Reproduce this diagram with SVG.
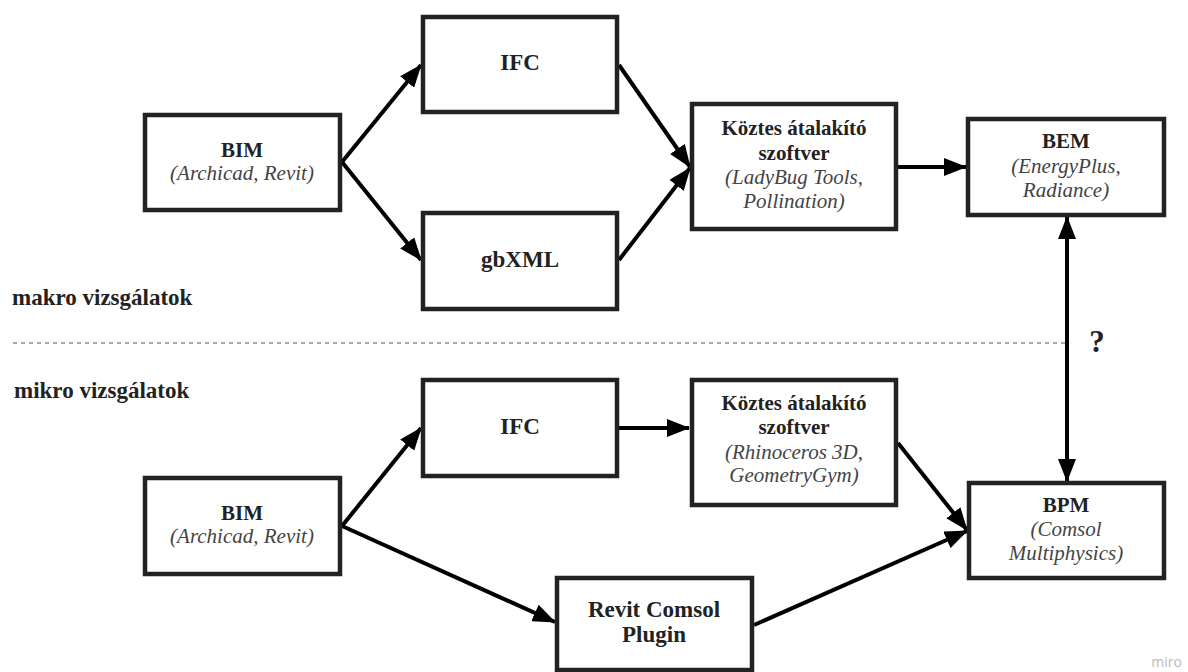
<svg xmlns="http://www.w3.org/2000/svg" width="1188" height="672" viewBox="0 0 1188 672">
<style>
.box{fill:#fff;stroke:#222;stroke-width:4.5}
.b{font-family:"Liberation Serif",serif;font-weight:bold;fill:#222;text-anchor:middle;font-size:21px}
.b23{font-size:23px}
.i{font-family:"Liberation Serif",serif;font-style:italic;fill:#444;text-anchor:middle;font-size:21px}
.lab{font-family:"Liberation Serif",serif;font-weight:bold;fill:#222;font-size:23px}
.c{fill:none;stroke:#000;stroke-width:4}
</style>
<defs>
<marker id="ah" viewBox="0 0 23 18" refX="22" refY="9" markerWidth="23" markerHeight="18" markerUnits="userSpaceOnUse" orient="auto-start-reverse">
<path d="M0,0 L23,9 L0,18 z" fill="#000"/>
</marker>
</defs>
<rect width="1188" height="672" fill="#fff"/>

<g id="section-labels">
<text class="lab" x="12" y="305">makro vizsgálatok</text>
<text class="lab" x="14" y="398">mikro vizsgálatok</text>
<line x1="13" y1="343" x2="1067" y2="343" stroke="#555" stroke-width="1.2" stroke-dasharray="4 4"/>
<text class="lab" x="1097" y="352" text-anchor="middle" style="font-size:31px">?</text>
</g>

<g id="connectors">
<line class="c" x1="342" y1="162" x2="421" y2="65" marker-end="url(#ah)"/>
<line class="c" x1="342" y1="162" x2="421" y2="260" marker-end="url(#ah)"/>
<line class="c" x1="619" y1="65" x2="690" y2="167" marker-end="url(#ah)"/>
<line class="c" x1="619" y1="260" x2="690" y2="168" marker-end="url(#ah)"/>
<line class="c" x1="898" y1="167" x2="966" y2="167" marker-end="url(#ah)"/>
<line class="c" x1="1067" y1="217" x2="1067" y2="481" marker-start="url(#ah)" marker-end="url(#ah)"/>
<line class="c" x1="342" y1="526" x2="421" y2="428" marker-end="url(#ah)"/>
<line class="c" x1="619" y1="428" x2="689" y2="428" marker-end="url(#ah)"/>
<line class="c" x1="898" y1="443" x2="967" y2="530" marker-end="url(#ah)"/>
<line class="c" x1="342" y1="526" x2="555" y2="622" marker-end="url(#ah)"/>
<line class="c" x1="754" y1="625" x2="967" y2="531" marker-end="url(#ah)"/>
</g>

<g id="bim-top">
<rect class="box" x="145" y="115" width="195" height="95"/>
<text class="b" x="242" y="157">BIM</text>
<text class="i" x="242" y="180">(Archicad, Revit)</text>
</g>
<g id="ifc-top">
<rect class="box" x="423" y="17" width="194" height="95"/>
<text class="b b23" x="520" y="70">IFC</text>
</g>
<g id="gbxml">
<rect class="box" x="423" y="213" width="194" height="96"/>
<text class="b b23" x="520" y="267">gbXML</text>
</g>
<g id="koztes-top">
<rect class="box" x="692" y="104" width="204" height="125"/>
<text class="b" x="794" y="135">Köztes átalakító</text>
<text class="b" x="794" y="160">szoftver</text>
<text class="i" x="794" y="184">(LadyBug Tools,</text>
<text class="i" x="794" y="208">Pollination)</text>
</g>
<g id="bem">
<rect class="box" x="968" y="119" width="196" height="96"/>
<text class="b" x="1066" y="148">BEM</text>
<text class="i" x="1066" y="173">(EnergyPlus,</text>
<text class="i" x="1066" y="197">Radiance)</text>
</g>

<g id="bim-bottom">
<rect class="box" x="145" y="478" width="195" height="96"/>
<text class="b" x="242" y="520">BIM</text>
<text class="i" x="242" y="543">(Archicad, Revit)</text>
</g>
<g id="ifc-bottom">
<rect class="box" x="423" y="380" width="194" height="96"/>
<text class="b b23" x="520" y="434">IFC</text>
</g>
<g id="koztes-bottom">
<rect class="box" x="692" y="380" width="204" height="125"/>
<text class="b" x="794" y="410">Köztes átalakító</text>
<text class="b" x="794" y="434">szoftver</text>
<text class="i" x="794" y="459">(Rhinoceros 3D,</text>
<text class="i" x="794" y="482">GeometryGym)</text>
</g>
<g id="bpm">
<rect class="box" x="969" y="483" width="195" height="95"/>
<text class="b" x="1066" y="512">BPM</text>
<text class="i" x="1066" y="536">(Comsol</text>
<text class="i" x="1066" y="560">Multiphysics)</text>
</g>
<g id="plugin">
<rect class="box" x="557" y="578" width="195" height="92"/>
<text class="b b23" x="654" y="617">Revit Comsol</text>
<text class="b b23" x="654" y="642">Plugin</text>
</g>

<text x="1182" y="667" text-anchor="end" font-family="Open Sans, sans-serif" font-size="14" fill="#bbb">miro</text>
</svg>
